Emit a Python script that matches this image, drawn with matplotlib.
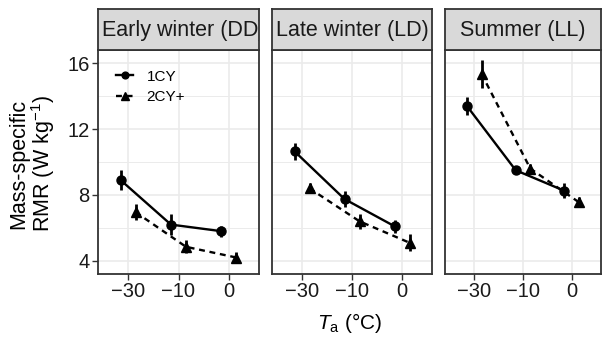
import matplotlib
matplotlib.use('Agg')
import matplotlib.pyplot as plt
import numpy as np

plt.rcParams['font.family'] = ['Liberation Sans', 'DejaVu Sans']
plt.rcParams['mathtext.fontset'] = 'custom'
plt.rcParams['mathtext.rm'] = 'Liberation Sans'
plt.rcParams['mathtext.it'] = 'Liberation Sans:italic'

# data
temps = ['\u221230', '\u221210', '0']
seasons = ['Early winter (DD)', 'Late winter (LD)', 'Summer (LL)']

early_1cy = [8.9, 6.2, 5.8]
early_1cy_se = [0.6, 0.65, 0.33]
early_2cy = [6.95, 4.85, 4.2]
early_2cy_se = [0.5, 0.4, 0.35]

late_1cy = [10.65, 7.75, 6.1]
late_1cy_se = [0.5, 0.5, 0.4]
late_2cy = [8.4, 6.4, 5.1]
late_2cy_se = [0.3, 0.45, 0.5]

summer_1cy = [13.4, 9.5, 8.25]
summer_1cy_se = [0.55, 0.25, 0.45]
summer_2cy = [15.35, 9.6, 7.55]
summer_2cy_se = [0.85, 0.3, 0.3]

panels = [(early_1cy, early_1cy_se, early_2cy, early_2cy_se),
          (late_1cy, late_1cy_se, late_2cy, late_2cy_se),
          (summer_1cy, summer_1cy_se, summer_2cy, summer_2cy_se)]

W, H = 602, 339
fig = plt.figure(figsize=(W / 100, H / 100), dpi=100)

lefts = [98, 272, 445]
rights = [259, 432, 601]
top, bottom, strip_top = 50, 274, 9

border = '#333333'
pos = np.arange(len(temps))
dodge = 0.15

for i, (m1, s1, m2, s2) in enumerate(panels):
    ax = fig.add_axes([lefts[i] / W, 1 - bottom / H, (rights[i] - lefts[i]) / W, (bottom - top) / H])
    # grid
    for y in [4, 8, 12, 16]:
        ax.axhline(y, color='#ebebeb', lw=1.2, zorder=0)
    for y in [6, 10, 14]:
        ax.axhline(y, color='#ebebeb', lw=0.7, zorder=0)
    for x in pos:
        ax.axvline(x, color='#ebebeb', lw=1.2, zorder=0)

    x1 = pos - dodge
    x2 = pos + dodge
    ax.plot(x1, m1, color='black', lw=1.7, marker='o', ms=6.5, label='1CY', zorder=3)
    ax.errorbar(x1, m1, yerr=s1, fmt='none', ecolor='black', elinewidth=2, capsize=0, zorder=3)
    ax.plot(x2, m2, color='black', lw=1.7, ls=(0, (2.5, 2)), marker='^', ms=7, label='2CY+', zorder=3)
    ax.errorbar(x2, m2, yerr=s2, fmt='none', ecolor='black', elinewidth=2, capsize=0, zorder=3)

    ax.set_xlim(-0.6, 2.6)
    ax.set_ylim(3.2, 16.8)
    ax.set_xticks(pos)
    ax.set_xticklabels(temps, fontsize=14.5)
    ax.set_yticks([4, 8, 12, 16])
    ax.tick_params(axis='both', color=border, length=4, width=1, labelcolor='#1a1a1a', pad=2)
    if i > 0:
        ax.tick_params(axis='y', left=False, labelleft=False)
    else:
        ax.set_yticklabels(['4', '8', '12', '16'], fontsize=14.5)
    for sp in ax.spines.values():
        sp.set_color(border)
        sp.set_linewidth(1.3)

    if i == 0:
        ax.legend(loc='upper left', bbox_to_anchor=(0.075, 0.94), frameon=False, fontsize=11,
                  handlelength=1.1, handletextpad=0.9, labelspacing=0.45, borderaxespad=0,
                  markerscale=0.75)

    # strip
    sax = fig.add_axes([lefts[i] / W, 1 - top / H, (rights[i] - lefts[i]) / W, (top - strip_top) / H])
    sax.set_facecolor('#d9d9d9')
    sax.set_xticks([])
    sax.set_yticks([])
    for sp in sax.spines.values():
        sp.set_color(border)
        sp.set_linewidth(1.3)
    if i == 0:
        # too wide for the strip: starts at the left and gets cut on the right
        sax.text(3.5 / (rights[i] - lefts[i]), 0.48, seasons[i], ha='left', va='center',
                 fontsize=15.5, color='#1a1a1a', transform=sax.transAxes, clip_on=True)
    else:
        sax.text(0.5, 0.48, seasons[i], ha='center', va='center', fontsize=15.5,
                 color='#1a1a1a', transform=sax.transAxes, clip_on=True)

fig.text(33 / W, 1 - 164 / H, 'Mass-specific\nRMR (W kg$^{\\mathregular{-1}}$)', rotation=90,
         ha='center', va='center', multialignment='center', fontsize=15.5, linespacing=1.0)
fig.text(350 / W, 1 - 323 / H, '$T_{\\mathrm{a}}$ (\u00b0C)', ha='center', va='center', fontsize=15)

fig.savefig('out.png', dpi=100)
